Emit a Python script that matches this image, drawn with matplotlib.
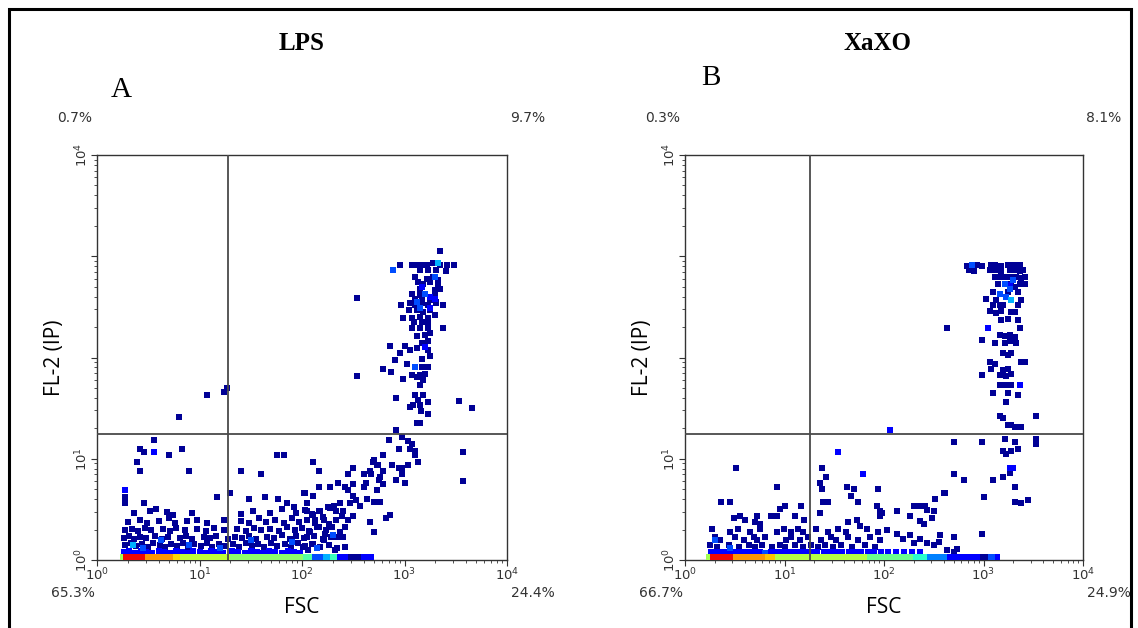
import numpy as np
import matplotlib
matplotlib.use("Agg")
import matplotlib.pyplot as plt
from matplotlib.patches import Rectangle

# valori in log10: (FSC, FL-2)
# panel A - LPS
lps_dim = [
    (0.27,0.15),(0.33,0.17),(0.38,0.14),(0.44,0.16),(0.50,0.13),(0.55,0.17),(0.61,0.15),(0.66,0.13),
    (0.72,0.16),(0.78,0.14),(0.84,0.17),(0.89,0.13),(0.95,0.16),(1.01,0.14),(1.07,0.17),(1.12,0.13),
    (1.19,0.16),(1.25,0.14),(1.33,0.16),(1.39,0.13),(1.45,0.17),(1.51,0.14),(1.57,0.16),(1.63,0.13),
    (1.70,0.17),(1.76,0.14),(1.83,0.16),(1.89,0.13),(1.96,0.17),(2.03,0.14),(2.10,0.16),(2.18,0.13),
    (2.26,0.15),(2.34,0.12),
    (0.26,0.22),(0.31,0.24),(0.36,0.21),(0.42,0.23),(0.48,0.22),(0.57,0.24),(0.63,0.21),(0.69,0.23),
    (0.81,0.22),(0.87,0.24),(0.93,0.21),(1.04,0.23),(1.10,0.22),(1.16,0.24),(1.28,0.21),(1.35,0.23),
    (1.41,0.22),(1.48,0.24),(1.55,0.21),(1.66,0.23),(1.73,0.22),(1.80,0.25),(1.88,0.21),(1.94,0.24),
    (2.02,0.22),(2.12,0.24),(2.20,0.21),(2.28,0.23),
    (0.27,0.30),(0.34,0.31),(0.40,0.29),(0.47,0.32),(0.53,0.30),(0.64,0.31),(0.71,0.29),(0.77,0.32),
    (0.86,0.30),(0.98,0.31),(1.06,0.29),(1.14,0.32),(1.24,0.30),(1.37,0.31),(1.45,0.29),(1.53,0.32),
    (1.60,0.30),(1.69,0.31),(1.78,0.29),(1.85,0.33),(1.93,0.30),(2.00,0.32),(2.07,0.29),(2.15,0.33),
    (2.23,0.30),
    (0.30,0.38),(0.42,0.40),(0.49,0.37),(0.60,0.39),(0.70,0.41),(0.76,0.37),(0.88,0.39),(0.98,0.40),
    (1.07,0.37),(1.24,0.40),(1.40,0.39),(1.48,0.37),(1.58,0.41),(1.65,0.38),(1.74,0.40),(1.82,0.37),
    (1.90,0.41),(1.97,0.38),(2.05,0.40),(2.13,0.37),(2.20,0.42),
    (0.36,0.46),(0.52,0.48),(0.68,0.47),(0.74,0.44),(0.93,0.46),(1.40,0.45),(1.52,0.48),(1.69,0.46),
    (1.80,0.50),(1.94,0.46),(2.03,0.49),(2.10,0.45),(2.18,0.48),(2.25,0.52),
    (0.27,0.56),(0.27,0.62),(0.46,0.56),(0.58,0.50),(1.17,0.62),(1.30,0.66),(1.48,0.60),(1.64,0.62),
    (1.77,0.60),(1.85,0.56),(1.92,0.52),(2.02,0.66),(0.39,0.97),(0.42,0.88),(0.90,0.88),(1.40,0.88),
    (1.60,0.85),(0.70,1.04),(0.83,1.10),(0.42,1.10),(0.46,1.07),(0.56,1.19),(1.76,1.04),(1.82,1.04),
    (0.80,1.41),(1.07,1.63),(1.24,1.66),(1.27,1.70),
    (2.11,0.97),(2.17,0.88),(2.50,0.91),(2.45,0.85),(2.60,0.85),(2.66,0.88),(2.69,0.97),(2.74,0.94),
    (2.79,0.88),(2.79,1.04),(2.88,0.94),(2.95,0.91),(2.98,0.91),(2.92,0.79),(3.00,0.76),(2.98,0.85),
    (3.03,0.94),(3.10,1.04),(3.13,0.97),(2.67,0.85),(2.73,0.94),(2.76,0.82),(2.75,0.79),(2.79,0.75),
    (2.73,0.69),(2.70,0.99),(2.62,0.76),(2.60,0.72),(2.50,0.75),(2.35,0.76),(2.42,0.72),(2.45,0.69),
    (2.27,0.72),(2.17,0.72),(2.50,0.63),(2.53,0.59),(2.47,0.56),(2.57,0.53),(2.63,0.60),(2.70,0.57),
    (2.76,0.57),(2.37,0.56),(2.31,0.53),(2.27,0.51),(2.33,0.48),(2.40,0.48),(2.50,0.43),(2.39,0.43),
    (2.45,0.40),(2.33,0.40),(2.66,0.38),(2.70,0.28),(2.86,0.44),(2.82,0.41),(2.42,0.33),(2.37,0.28),
    (2.40,0.23),(2.42,0.13),(2.32,0.10),(2.34,0.23),(2.22,0.26),(2.21,0.20),(2.17,0.33),(2.08,0.28),
    (2.05,0.23),(2.11,0.16),(2.01,0.13),(2.06,0.10),(2.03,0.66),(2.11,0.63),(2.05,0.56),(2.05,0.48),
    (2.11,0.44),(2.17,0.48),(2.21,0.40),(2.13,0.40),(2.26,0.36),(2.29,0.33),
    (3.35,3.05),(2.96,2.91),(3.07,2.91),(3.12,2.91),(3.17,2.91),(3.22,2.91),(3.28,2.93),(3.35,2.91),
    (3.41,2.91),(3.48,2.91),(3.15,2.86),(3.23,2.86),(3.31,2.86),(3.40,2.85),(3.10,2.80),(3.22,2.78),
    (3.28,2.80),(3.33,2.77),(3.13,2.75),(3.18,2.73),(3.25,2.75),(3.33,2.73),(3.15,2.68),(3.30,2.67),
    (3.35,2.68),(3.07,2.63),(3.15,2.62),(3.30,2.62),(3.10,2.58),(3.17,2.57),(3.25,2.57),(3.31,2.55),
    (2.97,2.52),(3.05,2.54),(3.10,2.52),(3.17,2.54),(3.23,2.52),(3.31,2.54),(3.38,2.52),(3.04,2.47),
    (3.12,2.47),(3.18,2.45),(3.25,2.47),(2.99,2.39),(3.07,2.39),(3.15,2.40),(3.23,2.39),(3.30,2.42),
    (3.09,2.35),(3.17,2.35),(3.23,2.34),(3.07,2.29),(3.15,2.29),(3.23,2.29),(3.38,2.29),(3.12,2.21),
    (3.20,2.22),(3.25,2.24),(3.23,2.16),(3.17,2.14),(3.00,2.11),(3.05,2.07),(3.12,2.09),(3.23,2.07),
    (2.86,2.11),(2.96,2.04),(3.17,1.99),(3.25,2.01),(2.91,1.98),(3.02,1.94),(3.17,1.91),(3.23,1.91),
    (2.79,1.89),(2.87,1.86),(3.07,1.83),(3.15,1.83),(3.20,1.84),(2.99,1.79),(3.12,1.81),(3.18,1.78),
    (3.15,1.73),(3.10,1.63),(3.18,1.63),(3.13,1.58),(3.08,1.53),(3.05,1.51),(3.15,1.53),(3.23,1.56),
    (3.16,1.47),(3.23,1.44),(3.12,1.35),(3.15,1.35),(2.92,1.60),(2.85,1.19),(2.92,1.28),(2.98,1.21),
    (3.03,1.18),(3.07,1.15),(3.05,1.10),(3.10,1.08),(2.95,1.10),
    (2.54,2.59),(2.54,1.82),(3.53,1.57),(3.66,1.50),(3.57,1.07),(3.57,0.78),
]
lps_mid = [
    (0.26,0.08),(0.31,0.09),(0.37,0.07),(0.43,0.09),(0.48,0.08),(0.54,0.07),(0.60,0.09),(0.65,0.08),
    (0.71,0.07),(0.77,0.09),(0.83,0.08),(0.88,0.07),(0.94,0.09),(1.00,0.08),(1.06,0.07),(1.11,0.09),
    (1.17,0.08),(1.23,0.07),(1.32,0.09),(1.38,0.08),(1.44,0.07),(1.50,0.09),(1.56,0.08),(1.62,0.07),
    (1.68,0.09),(1.74,0.08),(1.80,0.07),(1.86,0.09),(1.92,0.08),(1.98,0.07),
    (0.27,0.69),(0.56,1.07),(3.17,2.70),(3.25,2.60),(3.20,2.10),(3.25,2.49),(3.30,2.58),
]
lps_hi = [
    (0.45,0.12),(0.62,0.20),(0.90,0.15),(1.20,0.12),(1.50,0.20),(1.90,0.18),(2.15,0.12),(2.30,0.25),
    (2.89,2.86),(3.20,2.63),(3.12,2.55),(3.15,2.49),(3.10,1.91),(3.30,2.80),
]
lps_top = [(3.33,2.93),(0.35,0.15)]
lps_band = [
    (0.22,0.25,0.55),(0.25,0.47,0.90),(0.47,0.74,0.75),(0.74,0.81,0.68),(0.81,1.30,0.58),
    (1.30,2.01,0.52),(2.01,2.10,0.45),(2.10,2.20,0.20),(2.20,2.27,0.30),(2.27,2.34,0.42),
    (2.34,2.45,0.11),(2.45,2.58,0.02),(2.58,2.70,0.11),
]

# panel B - XaXO
xaxo_dim = [
    (2.83,2.90),(2.93,2.91),(2.98,2.90),(3.08,2.91),(3.12,2.91),(3.18,2.90),(3.25,2.91),(3.28,2.91),
    (3.33,2.91),(3.37,2.91),(2.85,2.86),(2.90,2.85),(3.07,2.86),(3.13,2.86),(3.18,2.85),(3.27,2.86),
    (3.32,2.86),(3.37,2.85),(3.40,2.86),(3.12,2.80),(3.18,2.80),(3.23,2.80),(3.28,2.80),(3.33,2.80),
    (3.38,2.79),(3.42,2.80),(3.15,2.73),(3.28,2.73),(3.32,2.70),(3.37,2.73),(3.42,2.73),(3.10,2.65),
    (3.25,2.65),(3.35,2.65),(3.03,2.58),(3.13,2.57),(3.38,2.57),(3.10,2.52),(3.17,2.52),
    (3.20,2.52),(3.35,2.52),(3.07,2.46),(3.13,2.44),(3.18,2.46),(3.28,2.45),(3.32,2.45),(3.18,2.37),
    (3.25,2.38),(3.35,2.37),(2.63,2.29),(3.37,2.29),(3.17,2.22),(3.22,2.21),(3.27,2.22),(3.32,2.20),
    (2.98,2.17),(3.12,2.14),(3.22,2.14),(3.27,2.16),(3.33,2.14),(3.20,2.04),(3.25,2.02),(3.28,2.04),
    (3.07,1.96),(3.12,1.94),(3.38,1.96),(3.42,1.96),(3.08,1.89),(3.20,1.88),(3.25,1.89),(2.98,1.83),
    (3.17,1.83),(3.23,1.82),(3.28,1.84),(3.17,1.73),(3.22,1.73),(3.28,1.73),(3.10,1.65),(3.25,1.65),
    (3.35,1.63),(3.23,1.56),(3.17,1.42),(3.20,1.40),(3.53,1.42),(3.25,1.33),(3.28,1.33),(3.32,1.31),
    (3.38,1.31),(2.70,1.17),(2.98,1.17),(3.22,1.20),(3.32,1.17),(3.53,1.20),(3.53,1.15),(3.20,1.08),
    (3.23,1.05),(3.28,1.08),(3.35,1.10),(2.70,0.85),(3.20,0.82),(3.27,0.86),(2.80,0.79),(3.10,0.79),
    (3.32,0.72),(2.60,0.66),(3.00,0.62),(3.32,0.57),(3.38,0.56),(3.45,0.59),
    (0.51,0.91),(1.38,0.91),(1.42,0.82),(0.92,0.72),(1.36,0.76),(1.38,0.70),(1.63,0.72),(1.70,0.70),
    (1.67,0.63),(1.94,0.70),(0.36,0.57),(0.45,0.57),(1.00,0.53),(0.95,0.50),(1.17,0.53),(1.39,0.57),
    (1.44,0.57),(1.74,0.57),(1.93,0.53),(1.96,0.48),(0.55,0.43),(0.60,0.40),(0.49,0.41),(0.72,0.43),
    (0.86,0.43),(0.92,0.43),(1.11,0.43),(1.20,0.40),(1.36,0.46),(0.70,0.38),(0.75,0.36),(1.64,0.38),
    (1.73,0.40),(1.76,0.34),(1.96,0.43),
    (0.27,0.31),(0.45,0.28),(0.53,0.31),(0.65,0.28),(0.75,0.31),(0.92,0.28),(0.99,0.31),(1.07,0.28),
    (1.14,0.31),(1.19,0.28),(1.32,0.31),(1.44,0.28),(1.54,0.31),(1.62,0.28),(1.83,0.31),(1.94,0.28),
    (0.30,0.23),(0.35,0.20),(0.50,0.23),(0.59,0.20),(0.69,0.23),(0.72,0.20),(0.80,0.23),(1.02,0.20),
    (1.07,0.23),(1.16,0.20),(1.24,0.23),(1.37,0.20),(1.47,0.23),(1.52,0.20),(1.64,0.23),(1.74,0.20),
    (1.86,0.23),(1.96,0.20),
    (0.25,0.15),(0.32,0.13),(0.44,0.15),(0.54,0.13),(0.64,0.15),(0.70,0.13),(0.77,0.15),(0.87,0.13),
    (0.95,0.15),(1.01,0.13),(1.11,0.15),(1.19,0.13),(1.27,0.15),(1.34,0.13),(1.41,0.15),(1.49,0.13),
    (1.57,0.15),(1.68,0.13),(1.81,0.15),(1.91,0.13),
    (1.98,0.46),(2.13,0.48),(2.26,0.43),(2.30,0.53),(2.35,0.53),(2.41,0.53),(2.43,0.49),(2.50,0.48),
    (2.36,0.39),(2.40,0.36),(2.48,0.41),(2.61,0.66),(2.51,0.60),(2.98,0.26),(2.03,0.30),(2.13,0.26),
    (2.19,0.21),(2.26,0.25),(2.30,0.17),(2.36,0.21),(2.43,0.17),(2.50,0.15),(2.55,0.18),(2.63,0.10),
    (2.70,0.08),(2.73,0.11),(2.56,0.25),(2.70,0.23),
]
xaxo_mid = [
    (0.26,0.08),(0.31,0.08),(0.36,0.08),(0.42,0.08),(0.47,0.08),(0.53,0.08),(0.58,0.08),(0.64,0.08),
    (0.69,0.08),(0.75,0.08),(0.86,0.08),(0.92,0.08),(0.97,0.08),(1.03,0.08),(1.09,0.08),
    (1.15,0.08),(1.21,0.08),(1.27,0.08),(1.33,0.08),(1.40,0.08),(1.46,0.08),(1.52,0.08),(1.58,0.08),
    (1.65,0.08),(1.71,0.08),(1.77,0.08),(1.84,0.08),(1.90,0.08),(1.97,0.08),(2.04,0.08),(2.12,0.08),
    (2.20,0.08),(2.28,0.08),(2.36,0.08),
    (2.06,1.28),(1.54,1.07),(1.79,0.85),(3.05,2.29),(3.27,2.72),(3.27,0.91),(3.30,0.91),(3.37,1.73),
]
xaxo_hi = [
    (2.88,2.91),(3.22,2.73),(3.27,2.68),(3.17,2.63),(3.23,2.60),(3.30,2.77),
    (0.30,0.20),(0.80,0.07),(0.45,0.12),
]
xaxo_top = [(3.28,2.57)]
xaxo_band = [
    (0.21,0.25,0.55),(0.25,0.48,0.90),(0.48,0.80,0.75),(0.80,0.90,0.70),(0.90,1.83,0.57),
    (1.83,2.29,0.48),(2.29,2.43,0.40),(2.43,2.63,0.25),(2.63,2.96,0.11),(2.96,3.05,0.02),
    (3.05,3.12,0.20),(3.12,3.17,0.11),
]

point_levels = [0.02, 0.11, 0.2, 0.3]
gates = [(1.28, 1.24), (1.26, 1.24)]
quadrants = [("0.7%", "9.7%", "65.3%", "24.4%"), ("0.3%", "8.1%", "66.7%", "24.9%")]
titles = ["LPS", "XaXO"]
letters = ["A", "B"]

W, H = 1138, 628
fig = plt.figure(figsize=(W / 100, H / 100), dpi=100)
cmap = plt.get_cmap("jet")

def px(x, y):
    return x / W, 1 - y / H

panels = [
    dict(box=(97, 507), groups=[lps_dim, lps_mid, lps_hi, lps_top], band=lps_band, tx=302, lx=121, ly=90),
    dict(box=(685, 1083), groups=[xaxo_dim, xaxo_mid, xaxo_hi, xaxo_top], band=xaxo_band, tx=877, lx=711, ly=78),
]

for i, p in enumerate(panels):
    x0, x1 = p["box"]
    ax = fig.add_axes([x0 / W, (H - 560) / H, (x1 - x0) / W, 405 / H])
    ax.set_xscale("log")
    ax.set_yscale("log")
    ax.set_xlim(1, 1e4)
    ax.set_ylim(1, 1e4)

    for pts, lev in zip(p["groups"], point_levels):
        arr = np.array(pts)
        ax.scatter(10 ** arr[:, 0], 10 ** arr[:, 1], marker="s", s=23, linewidths=0,
                   color=cmap(lev), zorder=2)
    for a, b, lev in p["band"]:
        ax.fill_between([10 ** a, 10 ** b], 1, 10 ** 0.055, color=cmap(lev), linewidth=0, zorder=3)

    gx, gy = gates[i]
    ax.axvline(10 ** gx, color="#4a4a4a", lw=1.3, zorder=4)
    ax.axhline(10 ** gy, color="#4a4a4a", lw=1.3, zorder=4)

    for s in ax.spines.values():
        s.set_color("#333333")
        s.set_linewidth(1.0)
    ax.set_xticks([1, 10, 100, 1000, 10000])
    ax.set_xticklabels(["$10^0$", "$10^1$", "$10^2$", "$10^3$", "$10^4$"])
    ax.set_yticks([1, 10, 100, 1000, 10000])
    ax.set_yticklabels(["$10^0$", "$10^1$", "", "", "$10^4$"], rotation=90, va="center")
    ax.tick_params(which="major", length=4, width=0.8, color="#333333", labelsize=9.5,
                   labelcolor="#333333", pad=1)
    ax.tick_params(which="minor", length=2, width=0.6, color="#333333")
    ax.set_xlabel("FSC", fontsize=15, family="Open Sans", labelpad=10)
    ax.set_ylabel("FL-2 (IP)", fontsize=15, family="Open Sans", labelpad=6)

    ul, ur, ll, lr = quadrants[i]
    fig.text(*px(x0 - 22, 118), ul, fontsize=10, color="#333333", ha="center", va="center")
    fig.text(*px(x1 + 21, 118), ur, fontsize=10, color="#333333", ha="center", va="center")
    fig.text(*px(x0 - 24, 593), ll, fontsize=10, color="#333333", ha="center", va="center")
    fig.text(*px(x1 + 26, 593), lr, fontsize=10, color="#333333", ha="center", va="center")

    fig.text(*px(p["tx"], 43), titles[i], fontsize=18, fontweight="bold",
             family="Liberation Serif", ha="center", va="center")
    fig.text(*px(p["lx"], p["ly"]), letters[i], fontsize=21, family="Liberation Serif",
             ha="center", va="center")

fig.patches.append(Rectangle((9 / W, -0.05), (1131 - 9) / W, 1 - 9 / H + 0.05,
                             transform=fig.transFigure, fill=False, edgecolor="black",
                             linewidth=2.2))

fig.savefig("out.png", dpi=100)
